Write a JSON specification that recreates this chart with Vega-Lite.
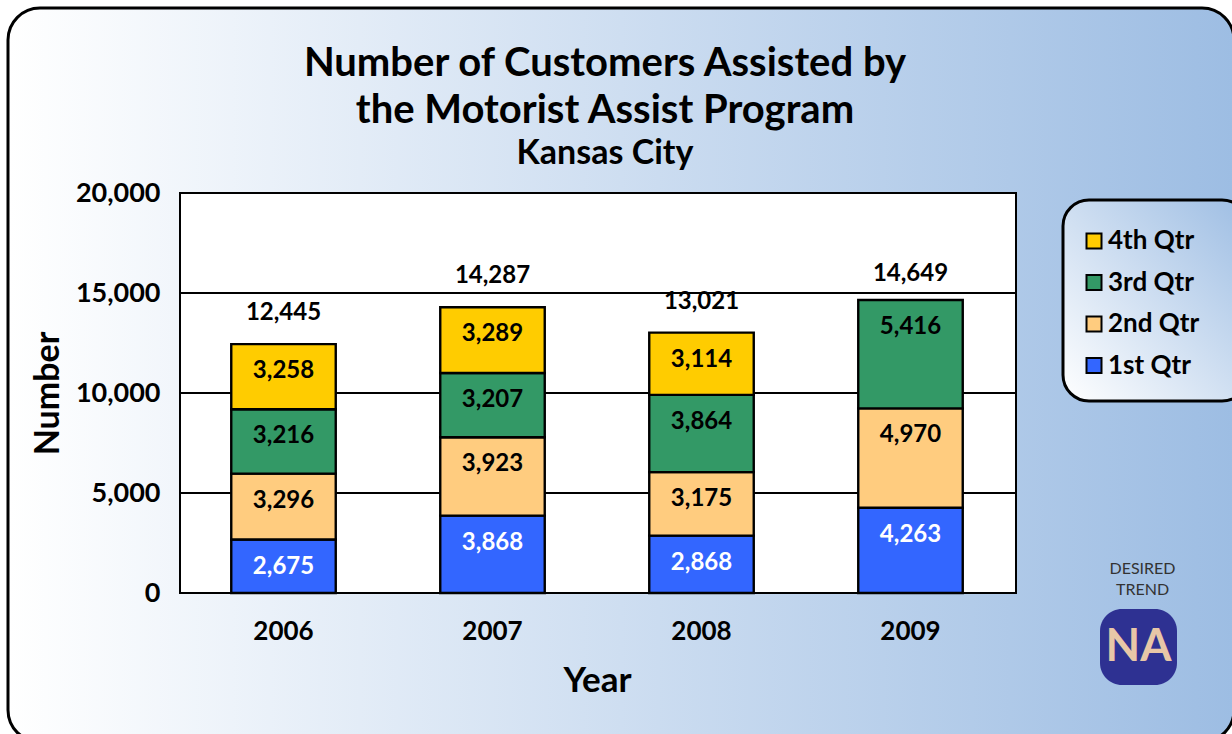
{
"$schema":"https://vega.github.io/schema/vega-lite/v6.json",
"width":1226,"height":734,
"autosize":{"type":"none"},
"padding":{"left":8,"top":8,"right":0,"bottom":0},
"background":"#ffffff",
"config":{"font":"Lato","view":{"fill":{"x1":0,"y1":0,"x2":1,"y2":0,"gradient":"linear","stops":[{"offset":0,"color":"#ffffff"},{"offset":1,"color":"#9dbde3"}]},"stroke":"#000000","strokeWidth":3,"cornerRadius":32}},
"title":{"text":["Number of Customers Assisted by","the Motorist Assist Program"],"subtitle":"Kansas City","anchor":"middle","frame":"group","dx":-16,"dy":199,"baseline":"alphabetic","font":"Lato","fontSize":40,"fontWeight":"bold","color":"#000000","lineHeight":47,"subtitleFont":"Lato","subtitleFontSize":34,"subtitleFontWeight":"bold","subtitleColor":"#000000","subtitlePadding":1},
"datasets":{"bars":[
{"year":"2006","quarter":"1st Qtr","value":2675},{"year":"2006","quarter":"2nd Qtr","value":3296},{"year":"2006","quarter":"3rd Qtr","value":3216},{"year":"2006","quarter":"4th Qtr","value":3258},
{"year":"2007","quarter":"1st Qtr","value":3868},{"year":"2007","quarter":"2nd Qtr","value":3923},{"year":"2007","quarter":"3rd Qtr","value":3207},{"year":"2007","quarter":"4th Qtr","value":3289},
{"year":"2008","quarter":"1st Qtr","value":2868},{"year":"2008","quarter":"2nd Qtr","value":3175},{"year":"2008","quarter":"3rd Qtr","value":3864},{"year":"2008","quarter":"4th Qtr","value":3114},
{"year":"2009","quarter":"1st Qtr","value":4263},{"year":"2009","quarter":"2nd Qtr","value":4970},{"year":"2009","quarter":"3rd Qtr","value":5416}],
"totals":[{"year":"2006","total":12445},{"year":"2007","total":14287},{"year":"2008","total":13021},{"year":"2009","total":14649}],
"grid":[{"level":5000},{"level":10000},{"level":15000}],
"one":[{"item":"box"}]},
"data":{"name":"bars"},
"layer":[
{"data":{"name":"one"},"mark":{"type":"rect","fill":"#ffffff","stroke":"#000000","strokeWidth":2},
 "encoding":{"x":{"datum":0,"type":"quantitative","scale":{"domain":[0,1],"range":[172,1008]},"axis":null},"x2":{"datum":1},
 "y":{"datum":0,"type":"quantitative","scale":{"domain":[0,20000],"range":[585,185]},"axis":null},"y2":{"datum":20000}}},
{"data":{"name":"grid"},"mark":{"type":"rule","stroke":"#000000","strokeWidth":2},
 "encoding":{"x":{"datum":0,"type":"quantitative","scale":{"domain":[0,1],"range":[172,1008]},"axis":null},"x2":{"datum":1},
 "y":{"field":"level","type":"quantitative","scale":{"domain":[0,20000],"range":[585,185]},"axis":null}}},
{"mark":{"type":"bar","stroke":"#000000","strokeWidth":2.4},
 "encoding":{
 "x":{"field":"year","type":"nominal","scale":{"domain":["2006","2007","2008","2009"],"range":[171,1007],"paddingInner":0.5,"paddingOuter":0.25},
  "axis":{"title":"Year","orient":"bottom","offset":-149,"domain":false,"ticks":false,"labelAngle":0,"labelFont":"Lato","labelFontSize":26,"labelFontWeight":"bold","labelColor":"#000000","labelPadding":25,"titleFont":"Lato","titleFontSize":35,"titleFontWeight":"bold","titleColor":"#000000","titlePadding":19}},
 "y":{"field":"value","type":"quantitative","stack":"zero","scale":{"domain":[0,20000],"range":[585,185]},
  "axis":{"title":"Number","orient":"left","offset":-172,"values":[0,5000,10000,15000,20000],"format":",d","domain":false,"ticks":false,"grid":false,"labelFont":"Lato","labelFontSize":27,"labelFontWeight":"bold","labelColor":"#000000","labelPadding":20,"titleFont":"Lato","titleFontSize":34,"titleFontWeight":"bold","titleColor":"#000000","titlePadding":10}},
 "color":{"field":"quarter","type":"nominal","scale":{"domain":["4th Qtr","3rd Qtr","2nd Qtr","1st Qtr"],"range":["#ffcc00","#339966","#ffcc7f","#3366ff"]},
  "legend":{"title":null,"orient":"none","legendX":1073,"legendY":220,"padding":0,"symbolType":"square","symbolSize":225,"symbolStrokeColor":"#000000","symbolStrokeWidth":2,"symbolOpacity":1,"labelFont":"Lato","labelFontSize":26,"labelFontWeight":"bold","labelColor":"#000000","labelOffset":1,"rowPadding":15.5}},
 "order":{"field":"quarter","type":"nominal"}}},
{"mark":{"type":"text","font":"Lato","fontSize":24,"fontWeight":"bold","dy":27},
 "encoding":{
 "x":{"field":"year","type":"nominal","scale":{"domain":["2006","2007","2008","2009"],"range":[171,1007],"paddingInner":0.5,"paddingOuter":0.25},"axis":null},
 "y":{"field":"value","type":"quantitative","stack":"zero","scale":{"domain":[0,20000],"range":[585,185]},"axis":null},
 "detail":{"field":"quarter"},
 "order":{"field":"quarter","type":"nominal"},
 "text":{"field":"value","type":"quantitative","format":",d"},
 "color":{"condition":{"test":"datum.quarter === '1st Qtr'","value":"#ffffff"},"value":"#000000"}}},
{"data":{"name":"totals"},"transform":[{"filter":"datum.year !== '2009'"}],"mark":{"type":"text","font":"Lato","fontSize":24,"fontWeight":"bold","dy":-31,"color":"#000000"},
 "encoding":{
 "x":{"field":"year","type":"nominal","scale":{"domain":["2006","2007","2008","2009"],"range":[171,1007],"paddingInner":0.5,"paddingOuter":0.25},"axis":null},
 "y":{"field":"total","type":"quantitative","scale":{"domain":[0,20000],"range":[585,185]},"axis":null},
 "text":{"field":"total","type":"quantitative","format":",d"}}},
{"data":{"name":"totals"},"transform":[{"filter":"datum.year === '2009'"}],"mark":{"type":"text","font":"Lato","fontSize":24,"fontWeight":"bold","dy":-26,"color":"#000000"},
 "encoding":{
 "x":{"field":"year","type":"nominal","scale":{"domain":["2006","2007","2008","2009"],"range":[171,1007],"paddingInner":0.5,"paddingOuter":0.25},"axis":null},
 "y":{"field":"total","type":"quantitative","scale":{"domain":[0,20000],"range":[585,185]},"axis":null},
 "text":{"field":"total","type":"quantitative","format":",d"}}},
{"data":{"name":"one"},"mark":{"type":"rect","cornerRadius":26,"stroke":"#000000","strokeWidth":3,"fill":{"x1":0,"y1":1,"x2":1,"y2":0,"gradient":"linear","stops":[{"offset":0,"color":"#ffffff"},{"offset":1,"color":"#9dbde3"}]}},
 "encoding":{"x":{"datum":0,"type":"quantitative","scale":{"domain":[0,1],"range":[1055,1240]},"axis":null},"x2":{"datum":1},
 "y":{"datum":0,"type":"quantitative","scale":{"domain":[0,1],"range":[393,192]},"axis":null},"y2":{"datum":1}}},
{"data":{"name":"one"},"mark":{"type":"rect","cornerRadius":22,"fill":"#2e3192"},
 "encoding":{"x":{"datum":0,"type":"quantitative","scale":{"domain":[0,1],"range":[1092,1169]},"axis":null},"x2":{"datum":1},
 "y":{"datum":0,"type":"quantitative","scale":{"domain":[0,1],"range":[677,601]},"axis":null},"y2":{"datum":1}}},
{"data":{"values":[{"label":"NA"}]},"mark":{"type":"text","font":"Lato","fontSize":45,"fontWeight":"bold","color":"#e8c7a7","baseline":"middle","align":"center"},
 "encoding":{"x":{"datum":0.5,"type":"quantitative","scale":{"domain":[0,1],"range":[1092,1169]},"axis":null},
 "y":{"datum":0.5,"type":"quantitative","scale":{"domain":[0,1],"range":[677,601]},"axis":null},
 "text":{"field":"label"}}},
{"data":{"values":[{"label":"DESIRED\nTREND"}]},"mark":{"type":"text","font":"Lato","fontSize":16,"color":"#333333","lineBreak":"\n","lineHeight":21,"baseline":"middle","align":"center"},
 "encoding":{"x":{"datum":0.5,"type":"quantitative","scale":{"domain":[0,1],"range":[1096,1173]},"axis":null},
 "y":{"datum":0.5,"type":"quantitative","scale":{"domain":[0,1],"range":[576,546]},"axis":null},
 "text":{"field":"label"}}}
],
"resolve":{"scale":{"x":"independent","y":"independent"},"axis":{"x":"independent","y":"independent"}}
}
